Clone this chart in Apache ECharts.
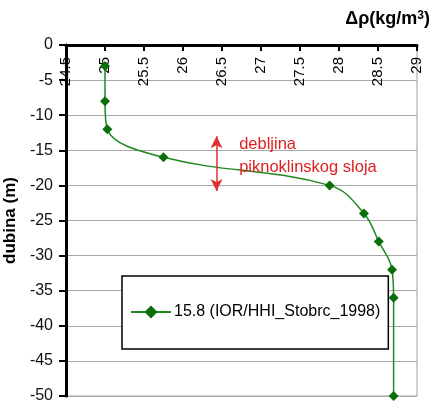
<!DOCTYPE html>
<html><head><meta charset="utf-8">
<script src="https://cdn.jsdelivr.net/npm/echarts@6/dist/echarts.min.js"></script>
<style>html,body{margin:0;padding:0;background:#fff}#c{width:430px;height:403px}</style>
</head><body><div id="c"></div>
<script>
var seriesName = '15.8 (IOR/HHI_Stobrc_1998)';
var densityValues = [25.0, 25.0, 25.03, 25.75, 27.88, 28.32, 28.51, 28.68, 28.7, 28.7];
var depthValues = [-3, -8, -12, -16, -20, -24, -28, -32, -36, -50];
var xTicks = [24.5, 29, 0.5];   // min, max, interval
var yTicks = [-50, 0, 5];
var arrowX = 26.43, arrowTop = -13, arrowBottom = -20.8;
var noteLines = ['debljina', 'piknoklinskog sloja'];

var pts = densityValues.map(function (v, i) { return [v, depthValues[i]]; });
var green = '#1f8a1f';
var FF = 'Liberation Sans, Arial';
var chart = echarts.init(document.getElementById('c'));
chart.setOption({
  animation: false,
  grid: { left: 66, right: 13, top: 45, bottom: 7, show: true, borderColor: '#a0a0a0', borderWidth: 1,
    containLabel: false, outerBoundsMode: 'none' },
  xAxis: {
    type: 'value', position: 'top', min: xTicks[0], max: xTicks[1], interval: xTicks[2],
    axisLine: { lineStyle: { color: '#000', width: 3 } },
    axisTick: { inside: true, length: 6, lineStyle: { color: '#000', width: 2 } },
    axisLabel: { inside: true, rotate: 90, color: '#000', fontFamily: FF, fontSize: 15, margin: 12,
      showMinLabel: true, showMaxLabel: true },
    splitLine: { show: false }
  },
  yAxis: {
    type: 'value', min: yTicks[0], max: yTicks[1], interval: yTicks[2],
    name: 'dubina (m)', nameLocation: 'middle', nameGap: 42,
    nameTextStyle: { fontWeight: 'bold', fontSize: 17, color: '#000', fontFamily: FF },
    axisLine: { show: true, lineStyle: { color: '#000', width: 3 } },
    axisTick: { show: true, length: 7, lineStyle: { color: '#000', width: 2 } },
    axisLabel: { color: '#111', fontSize: 16, fontFamily: FF, margin: 13 },
    splitLine: { lineStyle: { color: '#a8a8a8', width: 1 } }
  },
  legend: {
    left: 122, top: 276,
    data: [seriesName],
    orient: 'vertical',
    padding: [28, 8, 29, 8],
    itemWidth: 40, itemHeight: 16, itemGap: 0,
    borderColor: '#000', borderWidth: 1.5, backgroundColor: '#fff',
    textStyle: { fontSize: 16, color: '#000', fontFamily: FF, padding: [0, 0, 0, -2] }
  },
  series: [{
    name: seriesName, type: 'line', data: pts, smooth: 0.4,
    symbol: 'diamond', symbolSize: 10,
    lineStyle: { color: green, width: 1.5 },
    itemStyle: { color: '#0a6e0a' },
    z: 3,
    markLine: {
      silent: true, symbol: ['arrow', 'arrow'], symbolSize: [9, 12],
      lineStyle: { color: '#e03030', width: 1.5, type: 'solid' },
      label: { show: false },
      data: [[{ coord: [arrowX, arrowTop] }, { coord: [arrowX, arrowBottom] }]]
    },
    markPoint: {
      silent: true, symbol: 'circle', symbolSize: 0,
      label: { show: true, position: 'right', distance: 0, color: '#e02020', fontSize: 16.5, fontFamily: FF,
        formatter: function (p) { return p.name; } },
      data: [
        { name: noteLines[0], coord: [26.72, -14.1] },
        { name: noteLines[1], coord: [26.72, -17.4] }
      ]
    }
  }],
  graphic: [{
    type: 'text', right: 0, top: 10,
    style: {
      text: '{a|Δρ(kg/m}{s|3}{a|)}',
      rich: {
        a: { fontSize: 18, fontWeight: 'bold', fill: '#000', fontFamily: FF },
        s: { fontSize: 12, fontWeight: 'bold', fill: '#000', verticalAlign: 'top', fontFamily: FF }
      }
    }
  }]
});
</script></body></html>
